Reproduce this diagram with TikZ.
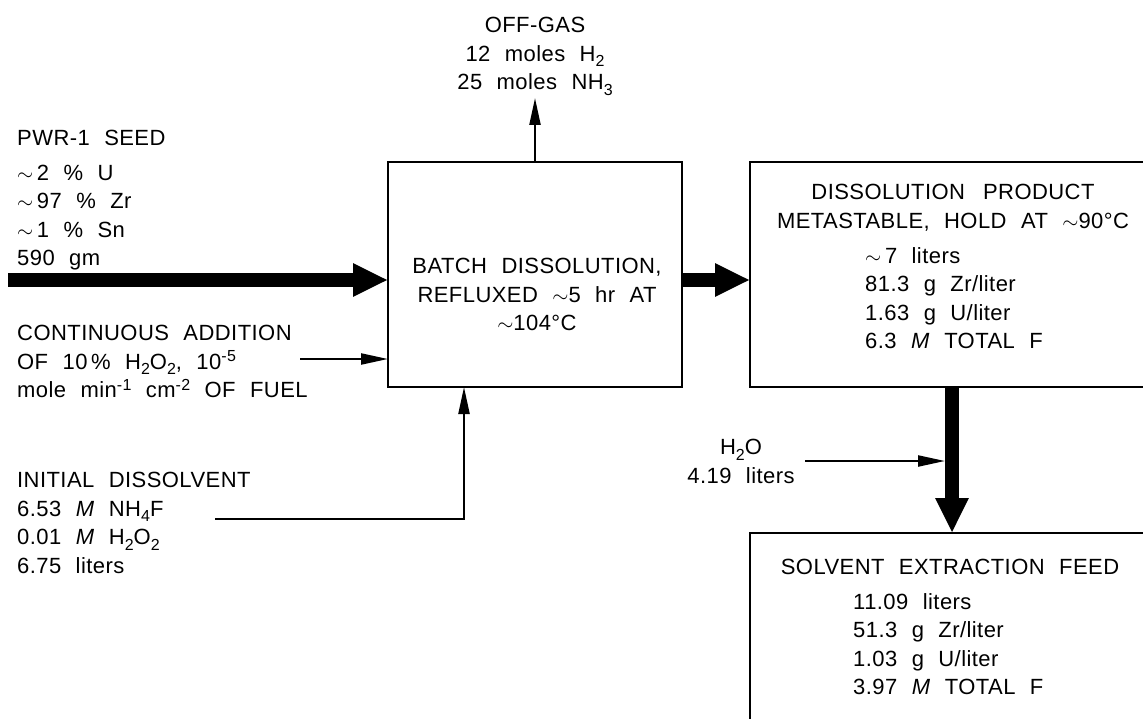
\documentclass[tikz,border=0pt]{standalone}
\usepackage{fontspec}
\setmainfont{Liberation Sans}[LetterSpace=2,WordSpace=2.2]
\usetikzlibrary{arrows.meta}
\newcommand\dn[1]{\raisebox{-0.5ex}{\fontsize{16}{16}\selectfont #1}}
\newcommand\up[1]{\raisebox{0.65ex}{\fontsize{16}{16}\selectfont #1}}
\begin{document}
\begin{tikzpicture}[x=1pt,y=-1pt,
  box/.style={draw, line width=2.4pt, inner sep=0pt, outer sep=0pt},
  txt/.style={inner sep=0pt, font=\fontsize{22}{28.5}\selectfont},
  smallarrow/.style={line width=2.2pt, -{Triangle[length=27pt,width=11pt]}},
  bigarrow/.style={line width=14pt, -{Triangle[length=35pt,width=31pt]}}]
\useasboundingbox (0,0) rectangle (1143,719);
% boxes
\node[box, minimum width=294pt, minimum height=225pt] (batch) at (535,274.5) {};
\node[box, minimum width=410pt, minimum height=225pt] (product) at (955,274.5) {};
\node[box, minimum width=410pt, minimum height=207pt] (feed) at (955,636.5) {};
% texts
\node[txt, anchor=north, align=center] (offgas) at (535,17)
  {OFF-GAS\\12 moles H\dn{2}\\25 moles NH\dn{3}};
\node[txt, anchor=north west, align=left] (seed) at (17,130)
  {PWR-1 SEED\\[6pt] $\sim$\,2 \% U\\ $\sim$\,97 \% Zr\\ $\sim$\,1 \% Sn\\ 590 gm};
\node[txt, anchor=north west, align=left] (cont) at (17,325)
  {CONTINUOUS ADDITION\\ OF 10\,\% H\dn{2}O\dn{2}, 10\up{-5}\\ mole min\up{-1} cm\up{-2} OF FUEL};
\node[txt, anchor=north west, align=left] (init) at (17,472)
  {INITIAL DISSOLVENT\\ 6.53 \textit{M} NH\dn{4}F\\ 0.01 \textit{M} H\dn{2}O\dn{2}\\ 6.75 liters};
\node[txt, anchor=north, align=center] (batchtxt) at (537,258)
  {BATCH DISSOLUTION,\\ REFLUXED $\sim$5 hr AT\\ $\sim$104°C};
\node[txt, anchor=north, align=center] (prodhead) at (953,184)
  {DISSOLUTION \,PRODUCT\\ METASTABLE, HOLD AT $\sim$90°C};
\node[txt, anchor=north west, align=left] (proddata) at (865,247)
  {$\sim$\,7 liters\\ 81.3 g Zr/liter\\ 1.63 g U/liter\\ 6.3 \textit{M} TOTAL F};
\node[txt, anchor=north, align=center] (feedhead) at (950,559)
  {SOLVENT EXTRACTION FEED};
\node[txt, anchor=north west, align=left] (feeddata) at (853,593)
  {11.09 liters\\ 51.3 g Zr/liter\\ 1.03 g U/liter\\ 3.97 \textit{M} TOTAL F};
\node[txt, anchor=north, align=center] (water) at (741,439)
  {H\dn{2}O\\ 4.19 liters};
% connectors
\coordinate (seedin) at (8,280);
\coordinate (contin) at (300,359);
\coordinate (initin) at (215,519);
\coordinate (offtip) at (535,98);
\coordinate (waterin) at (805,461);
\coordinate (waterout) at (945,461);
\draw[bigarrow] (seedin) -- (seedin -| batch.west);
\draw[bigarrow] (seedin -| batch.east) -- (seedin -| product.west);
\draw[smallarrow] (contin) -- (contin -| batch.west);
\draw[smallarrow] (batch.north) -- (offtip);
\draw[smallarrow] (initin) -| ([xshift=-71pt]batch.south);
\draw[bigarrow] ([xshift=-3pt]product.south) -- ([xshift=-3pt]feed.north);
\draw[smallarrow] (waterin) -- (waterout);
\end{tikzpicture}
\end{document}
